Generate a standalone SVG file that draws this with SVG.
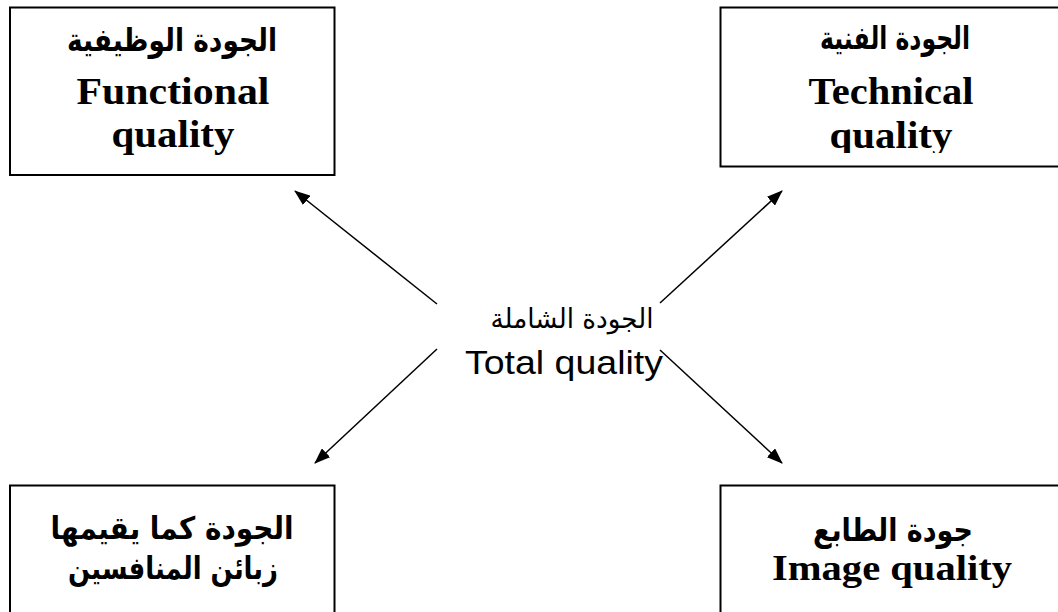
<svg xmlns="http://www.w3.org/2000/svg" width="1058" height="612" viewBox="0 0 1058 612">
  <style>
    .box { fill: #ffffff; stroke: #000000; stroke-width: 2; }
    .ar { font-family: "DejaVu Sans", "Noto Sans", sans-serif; font-weight: bold; text-anchor: middle; fill: #000; }
    .en { font-family: "Liberation Serif", "Times New Roman", serif; font-weight: bold; text-anchor: middle; fill: #000; }
    .mid-ar { font-family: "DejaVu Sans", "Noto Sans", sans-serif; text-anchor: middle; fill: #000; }
    .mid-en { font-family: "Liberation Sans", Arial, sans-serif; text-anchor: middle; fill: #000; }
    .link { stroke: #000; stroke-width: 1.5; fill: none; marker-end: url(#head); }
  </style>
  <defs>
    <marker id="head" viewBox="0 0 16 12" refX="15" refY="6" markerWidth="16" markerHeight="12" markerUnits="userSpaceOnUse" orient="auto">
      <path d="M0,0 L16,6 L0,12 Z" fill="#000"/>
    </marker>
    <clipPath id="clipTech">
      <rect x="722" y="8" width="340" height="145"/>
    </clipPath>
  </defs>

  <!-- Functional quality -->
  <g id="functional">
    <rect class="box" x="10" y="7.5" width="324.5" height="167.5"/>
    <text class="ar" x="172" y="51" font-size="32" textLength="210" lengthAdjust="spacingAndGlyphs">الجودة الوظيفية</text>
    <text class="en" x="173" y="104" font-size="37" textLength="193" lengthAdjust="spacingAndGlyphs">Functional</text>
    <text class="en" x="173" y="147" font-size="37" textLength="123" lengthAdjust="spacingAndGlyphs">quality</text>
  </g>

  <!-- Technical quality -->
  <g id="technical">
    <rect class="box" x="720.5" y="7.5" width="350" height="159"/>
    <g clip-path="url(#clipTech)">
      <text class="ar" x="895" y="49" font-size="32" textLength="150" lengthAdjust="spacingAndGlyphs">الجودة الفنية</text>
      <text class="en" x="891" y="104" font-size="37" textLength="165" lengthAdjust="spacingAndGlyphs">Technical</text>
      <text class="en" x="891" y="148" font-size="37" textLength="123" lengthAdjust="spacingAndGlyphs">quality</text>
    </g>
  </g>

  <!-- Quality as rated by competitors' customers -->
  <g id="competitors">
    <rect class="box" x="10" y="485.5" width="324.5" height="140"/>
    <text class="ar" x="172" y="539" font-size="31" textLength="243" lengthAdjust="spacingAndGlyphs">الجودة كما يقيمها</text>
    <text class="ar" x="173" y="579" font-size="31" textLength="210" lengthAdjust="spacingAndGlyphs">زبائن المنافسين</text>
  </g>

  <!-- Image quality -->
  <g id="image">
    <rect class="box" x="720.5" y="485.5" width="350" height="140"/>
    <text class="ar" x="893" y="541" font-size="32" textLength="160" lengthAdjust="spacingAndGlyphs">جودة الطابع</text>
    <text class="en" x="892" y="580" font-size="35" textLength="240" lengthAdjust="spacingAndGlyphs">Image quality</text>
  </g>

  <!-- Total quality (centre) -->
  <g id="total">
    <text class="mid-ar" x="572" y="328" font-size="27" textLength="163" lengthAdjust="spacingAndGlyphs">الجودة الشاملة</text>
    <text class="mid-en" x="564" y="374" font-size="33.5" textLength="198" lengthAdjust="spacingAndGlyphs">Total quality</text>
  </g>

  <!-- Connectors -->
  <g id="connectors">
    <line class="link" x1="437" y1="304" x2="295" y2="191"/>
    <line class="link" x1="660" y1="303" x2="782" y2="191"/>
    <line class="link" x1="437" y1="349" x2="315" y2="463"/>
    <line class="link" x1="660" y1="350" x2="782" y2="463"/>
  </g>
</svg>
